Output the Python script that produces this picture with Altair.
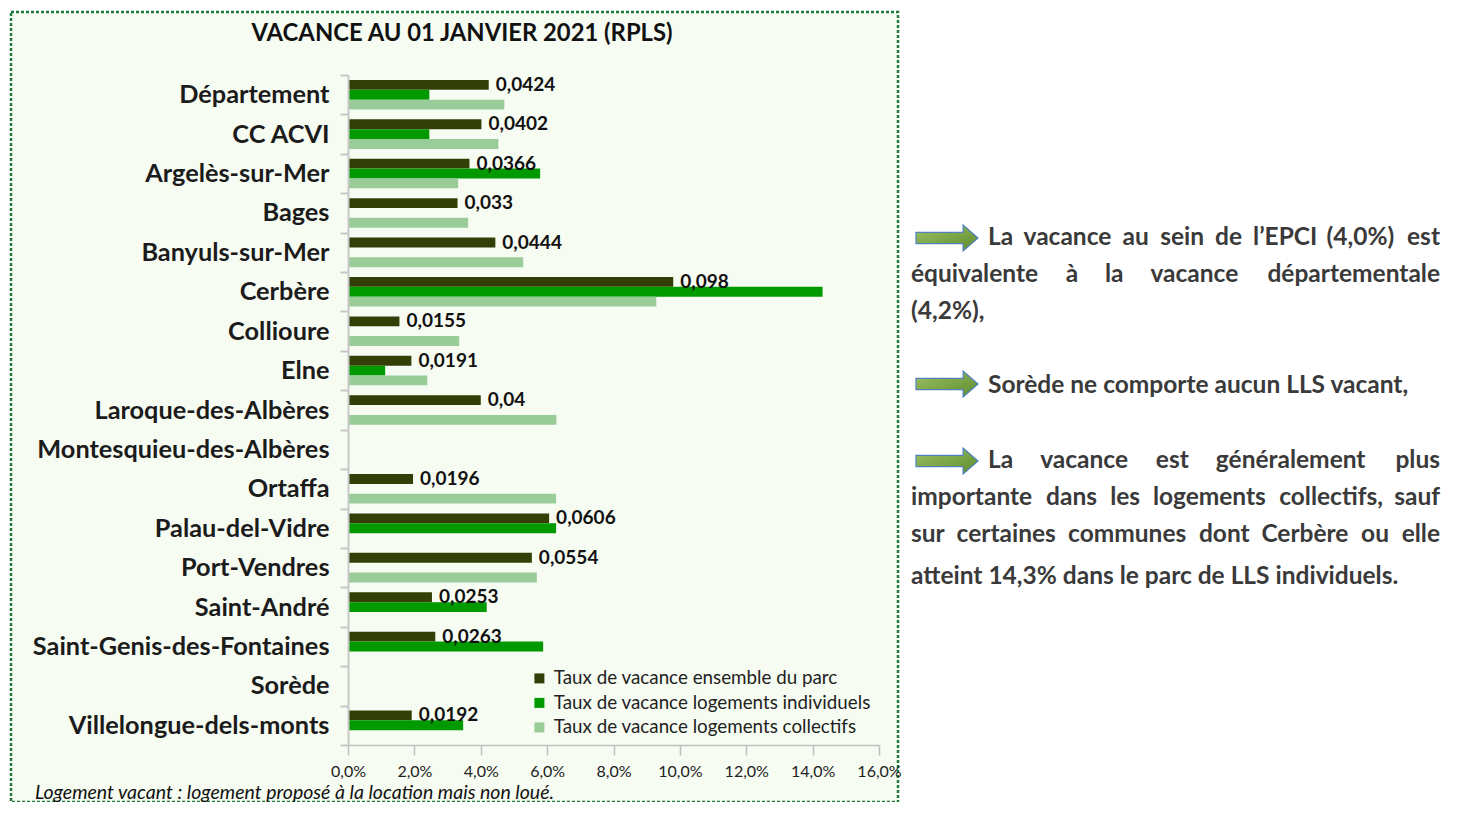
import altair as alt
import pandas as pd

# ---------------- data ----------------
categories = [
    "Département", "CC ACVI", "Argelès-sur-Mer", "Bages", "Banyuls-sur-Mer",
    "Cerbère", "Collioure", "Elne", "Laroque-des-Albères",
    "Montesquieu-des-Albères", "Ortaffa", "Palau-del-Vidre", "Port-Vendres",
    "Saint-André", "Saint-Genis-des-Fontaines", "Sorède", "Villelongue-dels-monts",
]
ensemble = [0.0424, 0.0402, 0.0366, 0.033, 0.0444, 0.098, 0.0155, 0.0191, 0.04,
            None, 0.0196, 0.0606, 0.0554, 0.0253, 0.0263, None, 0.0192]
individuels = [0.0245, 0.0245, 0.0579, None, None, 0.143, None, 0.0112, None,
               None, None, 0.0627, None, 0.0418, 0.0588, None, 0.0347]
collectifs = [0.0471, 0.0453, 0.0332, 0.0362, 0.0528, 0.0929, 0.0335, 0.0239, 0.0628,
              None, 0.0627, None, 0.0569, None, None, None, None]
series = [
    "Taux de vacance ensemble du parc",
    "Taux de vacance logements individuels",
    "Taux de vacance logements collectifs",
]
colors = ["#333F07", "#009900", "#99CC99"]
x_ticks = [0, 0.02, 0.04, 0.06, 0.08, 0.10, 0.12, 0.14, 0.16]

rows = []
for name, vals in zip(series, [ensemble, individuels, collectifs]):
    for c, v in zip(categories, vals):
        if v is not None:
            rows.append({"commune": c, "serie": name, "taux": v,
                         "label": str(v).replace(".", ",")})
df = pd.DataFrame(rows)

# ---------------- layout ----------------
W, H = 531, 670
OX, OY = 348, 75  # page position of plot origin


def px(x):
    return x - OX


def py(y):
    return y - OY


FONT = "Lato"
one = alt.Data(values=[{}])

x_enc = alt.X(
    "taux:Q",
    scale=alt.Scale(domain=[0, 0.16], nice=False, zero=True),
    axis=alt.Axis(
        title=None, values=x_ticks, grid=False, zindex=2,
        labelExpr="replace(format(datum.value, '.1%'), '.', ',')",
        labelFlush=False, labelFont=FONT, labelFontSize=16, labelColor="#222222",
        labelPadding=8, tickSize=10, tickColor="#BFBFBF", tickWidth=1.5,
        domainColor="#BFBFBF", domainWidth=1.5,
    ),
)
y_enc = alt.Y(
    "commune:N",
    sort=categories,
    scale=alt.Scale(domain=categories, paddingInner=0, paddingOuter=0),
    axis=alt.Axis(
        title=None, tickBand="extent", grid=False, zindex=2,
        labelFont=FONT, labelFontWeight="bold", labelFontSize=25.3,
        labelColor="#1b1b1b", labelPadding=11, tickSize=8, labelLimit=400,
        tickColor="#C8C8C8", tickWidth=2, domainColor="#C8C8C8", domainWidth=2,
    ),
)
yoff = alt.YOffset(
    "serie:N", sort=series,
    scale=alt.Scale(domain=series, paddingInner=0, paddingOuter=0.5),
)

border = alt.Chart(one).mark_rect(
    fill="#F7FCF2", stroke="#1F7A3A", strokeDash=[3, 2], strokeWidth=2.5
).encode(
    x=alt.value(px(11)), x2=alt.value(px(898)),
    y=alt.value(py(12)), y2=alt.value(py(802)),
)

bars = alt.Chart(df).mark_bar().encode(
    x=x_enc, y=y_enc, yOffset=yoff,
    color=alt.Color(
        "serie:N",
        scale=alt.Scale(domain=series, range=colors),
        legend=alt.Legend(
            title=None, orient="none", legendX=182, legendY=594,
            symbolType="square", symbolSize=100, symbolStrokeWidth=0,
            symbolOpacity=1, labelFont=FONT, labelFontSize=18.8, labelLimit=500,
            labelColor="#222222", labelOffset=5, rowPadding=4.5, padding=0,
            direction="vertical",
        ),
    ),
)

labels = alt.Chart(df[df["serie"] == series[0]]).mark_text(
    align="left", baseline="middle", dx=7, font=FONT, fontWeight="bold",
    fontSize=19, color="#111111",
).encode(x=x_enc, y=y_enc, yOffset=yoff, text="label:N")


def txt(s, x, y, **kw):
    return alt.Chart(one).mark_text(text=s, **kw).encode(
        x=alt.value(px(x)), y=alt.value(py(y))
    )


title = txt("VACANCE AU 01 JANVIER 2021 (RPLS)", 462, 34, align="center",
            baseline="middle", font=FONT, fontWeight="bold", fontSize=23.8,
            color="#111111")
foot = txt("Logement vacant : logement proposé à la location mais non loué.",
           35, 793, align="left", baseline="middle", font=FONT,
           fontStyle="italic", fontSize=19.5, color="#111111")

arrow_path = "M-1,-0.18L0.52,-0.18L0.52,-0.42L1,0L0.52,0.42L0.52,0.18L-1,0.18Z"
arrow_fill = alt.LinearGradient(
    gradient="linear", x1=0, y1=0, x2=1, y2=1,
    stops=[alt.GradientStop(color="#9CC165", offset=0),
           alt.GradientStop(color="#5E8C2C", offset=1)],
)


def arrow(y):
    return alt.Chart(one).mark_point(
        shape=arrow_path, size=3844, filled=True, fill=arrow_fill,
        stroke="#4F81BD", strokeWidth=1.2, opacity=1,
    ).encode(x=alt.value(px(947)), y=alt.value(py(y)))


# ---- right-hand commentary, justified word by word ----
FS = 24.5
CW = {  # approximate advance widths (em) of the bold sans used
    "a": .53, "b": .57, "c": .46, "d": .57, "e": .54, "f": .34, "g": .51,
    "h": .57, "i": .26, "j": .26, "k": .52, "l": .26, "m": .86, "n": .57,
    "o": .57, "p": .57, "q": .57, "r": .38, "s": .43, "t": .36, "u": .57,
    "v": .51, "w": .77, "x": .50, "y": .51, "z": .46, "é": .54, "è": .54,
    "à": .53, "L": .48, "E": .55, "P": .60, "C": .64, "I": .27, "S": .50,
    "(": .33, ")": .33, "%": .80, ",": .24, "’": .24, ".": .24,
}


def width(word):
    return sum(CW.get(ch, .58) for ch in word) * FS


R = 1440
lines = [  # (y, x start, text, justified)
    (238, 988, "La vacance au sein de l’EPCI (4,0%) est", True),
    (275, 911, "équivalente à la vacance départementale", True),
    (312, 911, "(4,2%),", False),
    (386, 988, "Sorède ne comporte aucun LLS vacant,", False),
    (461, 988, "La vacance est généralement plus", True),
    (498, 911, "importante dans les logements collectifs, sauf", True),
    (535, 911, "sur certaines communes dont Cerbère ou elle", True),
    (577, 911, "atteint 14,3% dans le parc de LLS individuels.", False),
]
words = []
wstyle = dict(baseline="middle", font=FONT, fontWeight="bold", fontSize=FS,
              color="#3A3A3A")
for y, x0, text, just in lines:
    if not just:
        words.append(txt(text, x0, y, align="left", **wstyle))
        continue
    ws = text.split(" ")
    gap = (R - x0 - sum(width(w) for w in ws)) / (len(ws) - 1)
    x = x0
    for i, w in enumerate(ws):
        if i == len(ws) - 1:
            words.append(txt(w, R, y, align="right", **wstyle))
        else:
            words.append(txt(w, x, y, align="left", **wstyle))
        x += width(w) + gap

chart = alt.layer(
    border, bars, labels, title, foot,
    arrow(238), arrow(384), arrow(461),
    *words,
).properties(
    width=W, height=H,
    padding={"left": 340, "top": 67, "right": 565, "bottom": 57},
    autosize=alt.AutoSizeParams(type="none"),
).configure(background="white").configure_view(stroke=None)

chart.save("out.html", embed_options={"renderer": "svg", "actions": False})
